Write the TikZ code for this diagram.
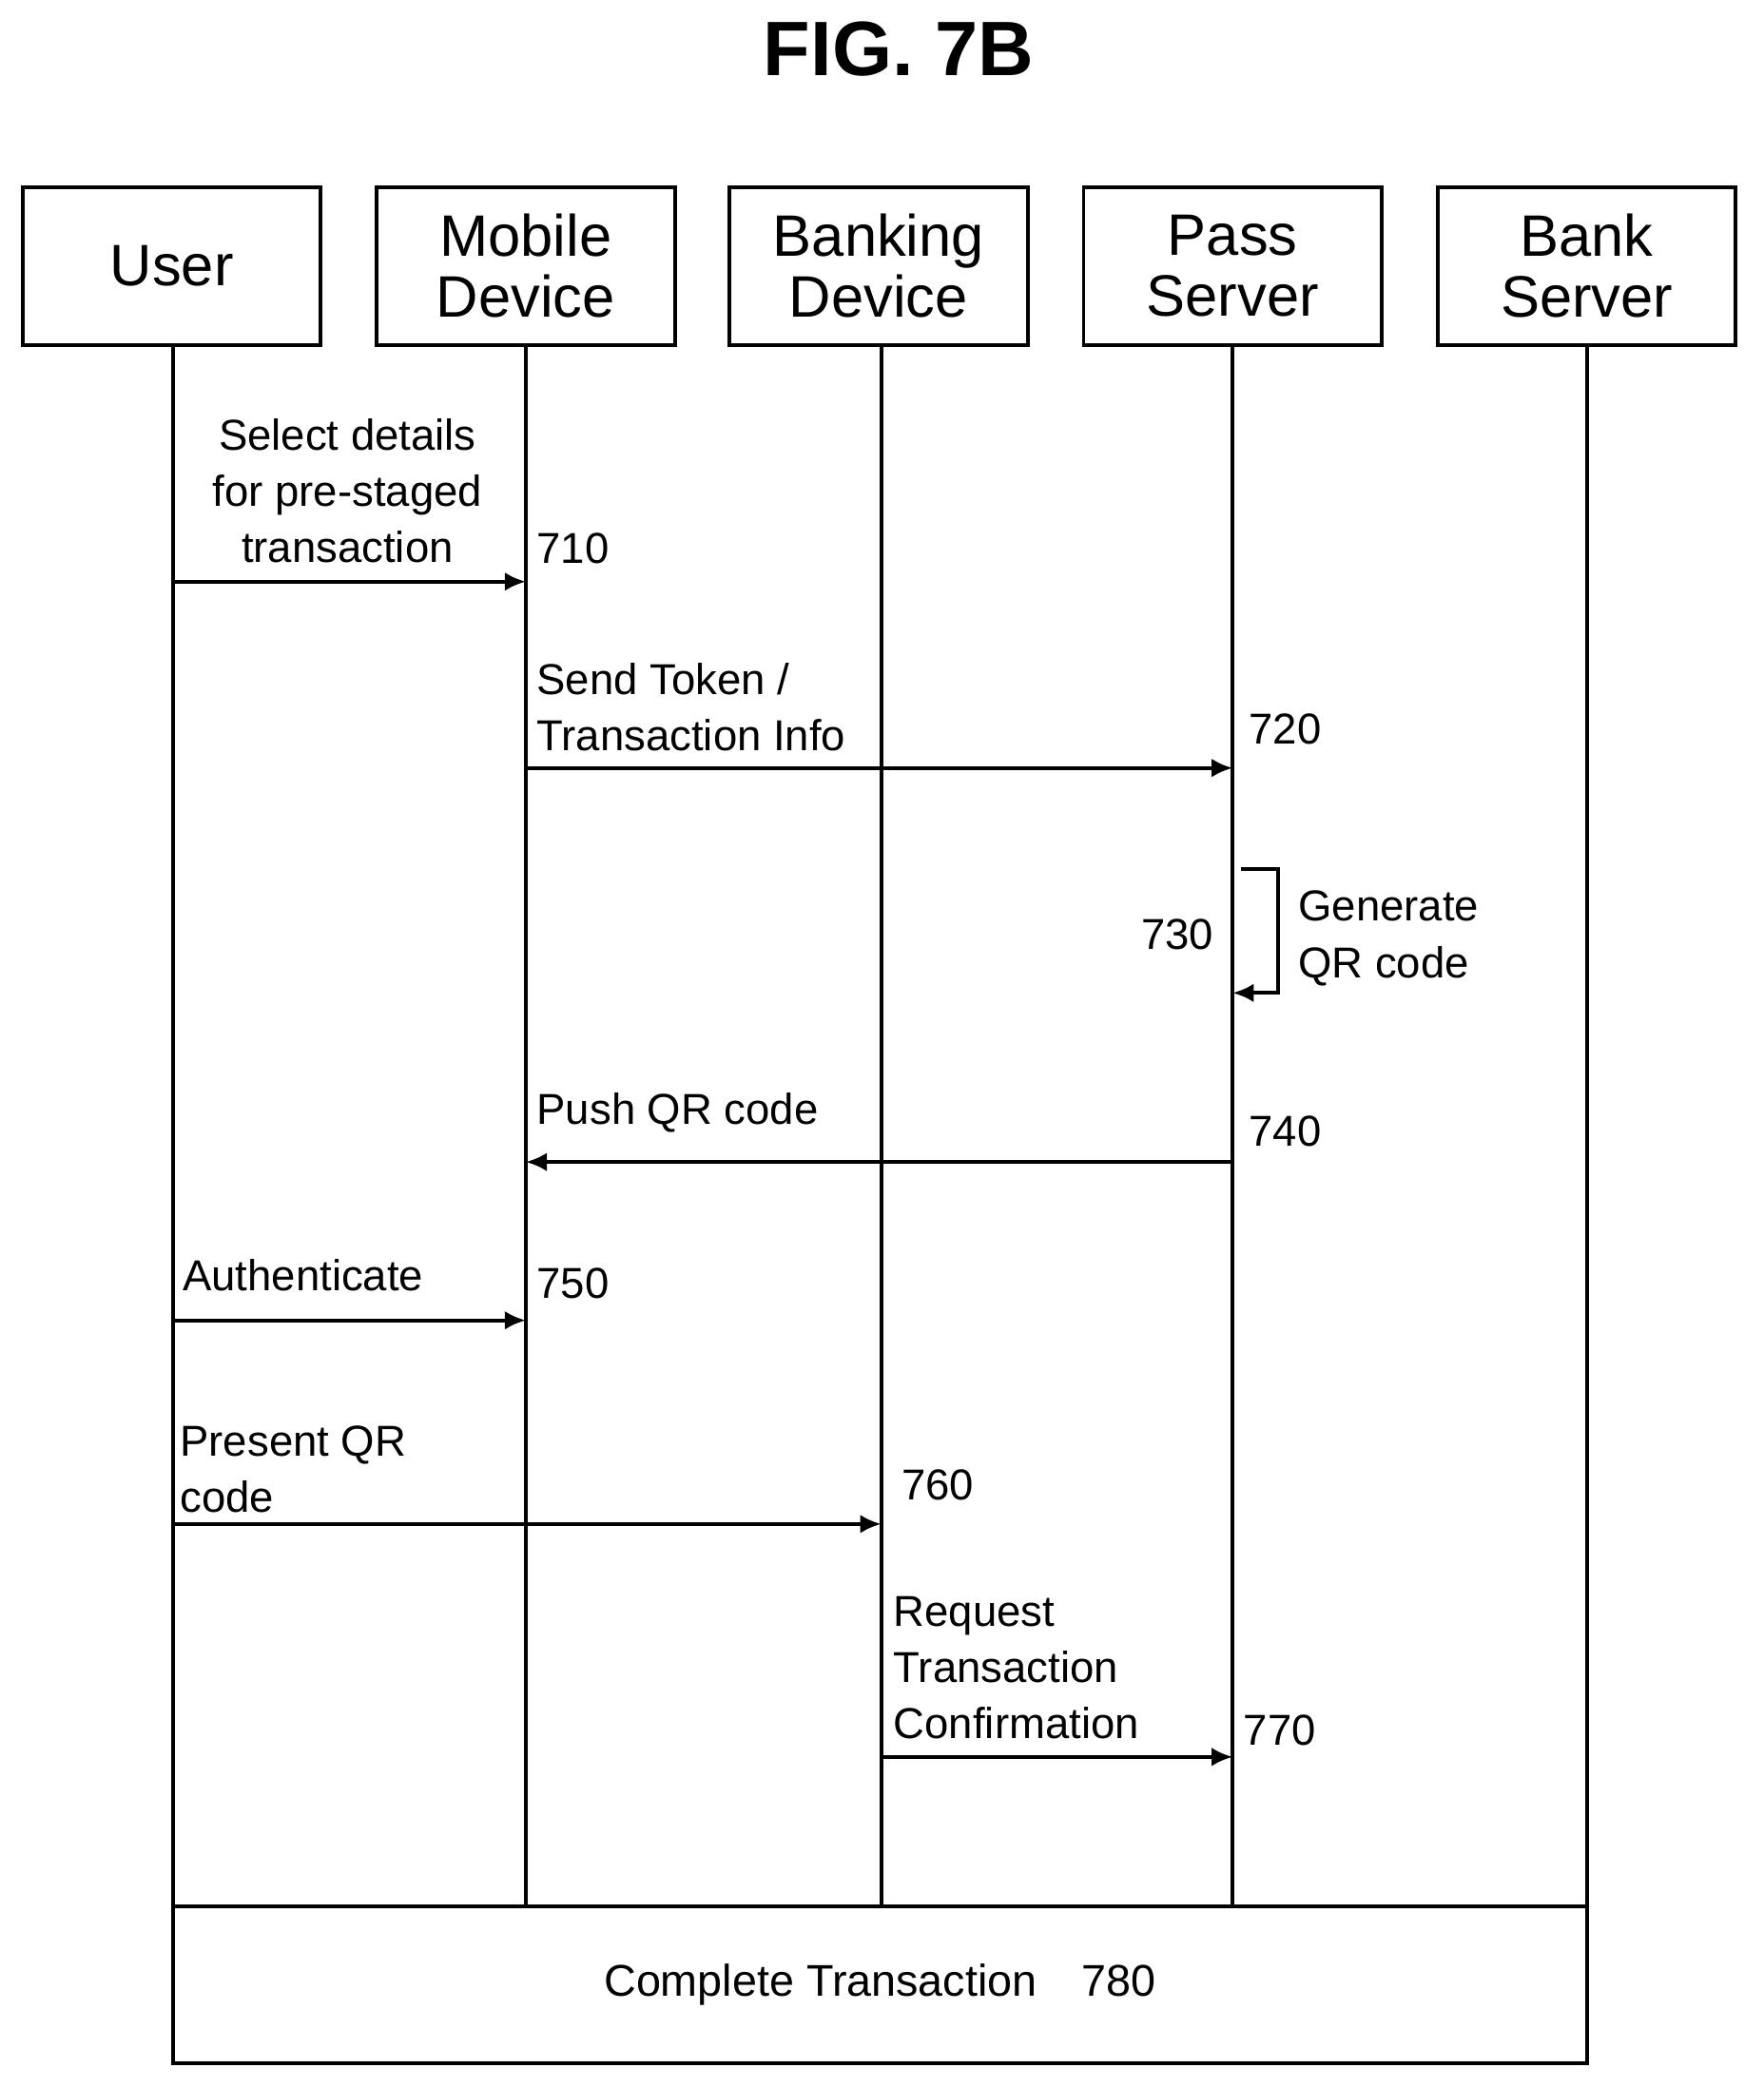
\documentclass[tikz,border=0pt]{standalone}
\usepackage{fontspec}
\setmainfont{Liberation Sans}
\usetikzlibrary{arrows.meta}
\begin{document}
\begin{tikzpicture}[x=0.02cm,y=-0.02cm,
    actor/.style={draw,line width=1.6pt,minimum width=224*0.02cm,minimum height=119*0.02cm,font=\fontsize{25}{30}\selectfont,align=center},
    lbl/.style={font=\fontsize{18.5}{24}\selectfont,align=left,inner sep=0pt},
    msg/.style={line width=1.6pt,-{Latex[length=9pt,width=8pt]}},
    life/.style={line width=1.6pt}]
  \useasboundingbox (0,0) rectangle (1325,1568);
  \node[font=\fontsize{33}{36}\selectfont\bfseries] (title) at (675,37) {FIG. 7B};
  \node[actor] (user) at (129,200) {User};
  \node[actor] (mobile) at (395,200) {Mobile\\[-4pt]Device};
  \node[actor] (banking) at (660,200) {Banking\\[-4pt]Device};
  \node[actor] (pass) at (926,200) {Pass\\[-4pt]Server};
  \node[actor] (bank) at (1192,200) {Bank\\[-4pt]Server};
  \node[draw,line width=1.6pt,minimum width=1062*0.02cm,minimum height=118*0.02cm,font=\fontsize{19}{24}\selectfont] (done) at (661,1491) {Complete Transaction\quad 780};
  % lifelines
  \foreach \who/\x in {user/130,mobile/395,banking/662,pass/926,bank/1192}
    \draw[life] (\who.south -| \x,0) -- (\x,1432);
  % messages
  \coordinate (u710) at (130,437);  \coordinate (m710) at (395,437);
  \coordinate (m720) at (395,577);  \coordinate (p720) at (926,577);
  \coordinate (p740) at (926,873);  \coordinate (m740) at (395,873);
  \coordinate (u750) at (130,992);  \coordinate (m750) at (395,992);
  \coordinate (u760) at (130,1145); \coordinate (b760) at (662,1145);
  \coordinate (b770) at (662,1320); \coordinate (p770) at (926,1320);
  \draw[msg] (u710) -- (m710);
  \draw[msg] (m720) -- (p720);
  \draw[msg] (p740) -- (m740);
  \draw[msg] (u750) -- (m750);
  \draw[msg] (u760) -- (b760);
  \draw[msg] (b770) -- (p770);
  \draw[msg] (932,653) -- (960,653) -- (960,746) -- (926,746);
  % labels
  \node[lbl,align=center] at (261,369) {Select details\\for pre-staged\\transaction};
  \node[lbl,anchor=west] at (403,412) {710};
  \node[lbl,anchor=west] at (403,531) {Send Token /\\Transaction Info};
  \node[lbl,anchor=west] at (938,548) {720};
  \node[lbl,anchor=east] at (912,702) {730};
  \node[lbl,anchor=west] at (975,705) {Generate\\QR code};
  \node[lbl,anchor=west] at (403,836) {Push QR code};
  \node[lbl,anchor=west] at (938,850) {740};
  \node[lbl,anchor=west] at (137,958) {Authenticate};
  \node[lbl,anchor=west] at (403,964) {750};
  \node[lbl,anchor=west] at (135,1104) {Present QR\\code};
  \node[lbl,anchor=west] at (677,1116) {760};
  \node[lbl,anchor=west] at (671,1253) {Request\\Transaction\\Confirmation};
  \node[lbl,anchor=west] at (934,1300) {770};
\end{tikzpicture}
\end{document}
